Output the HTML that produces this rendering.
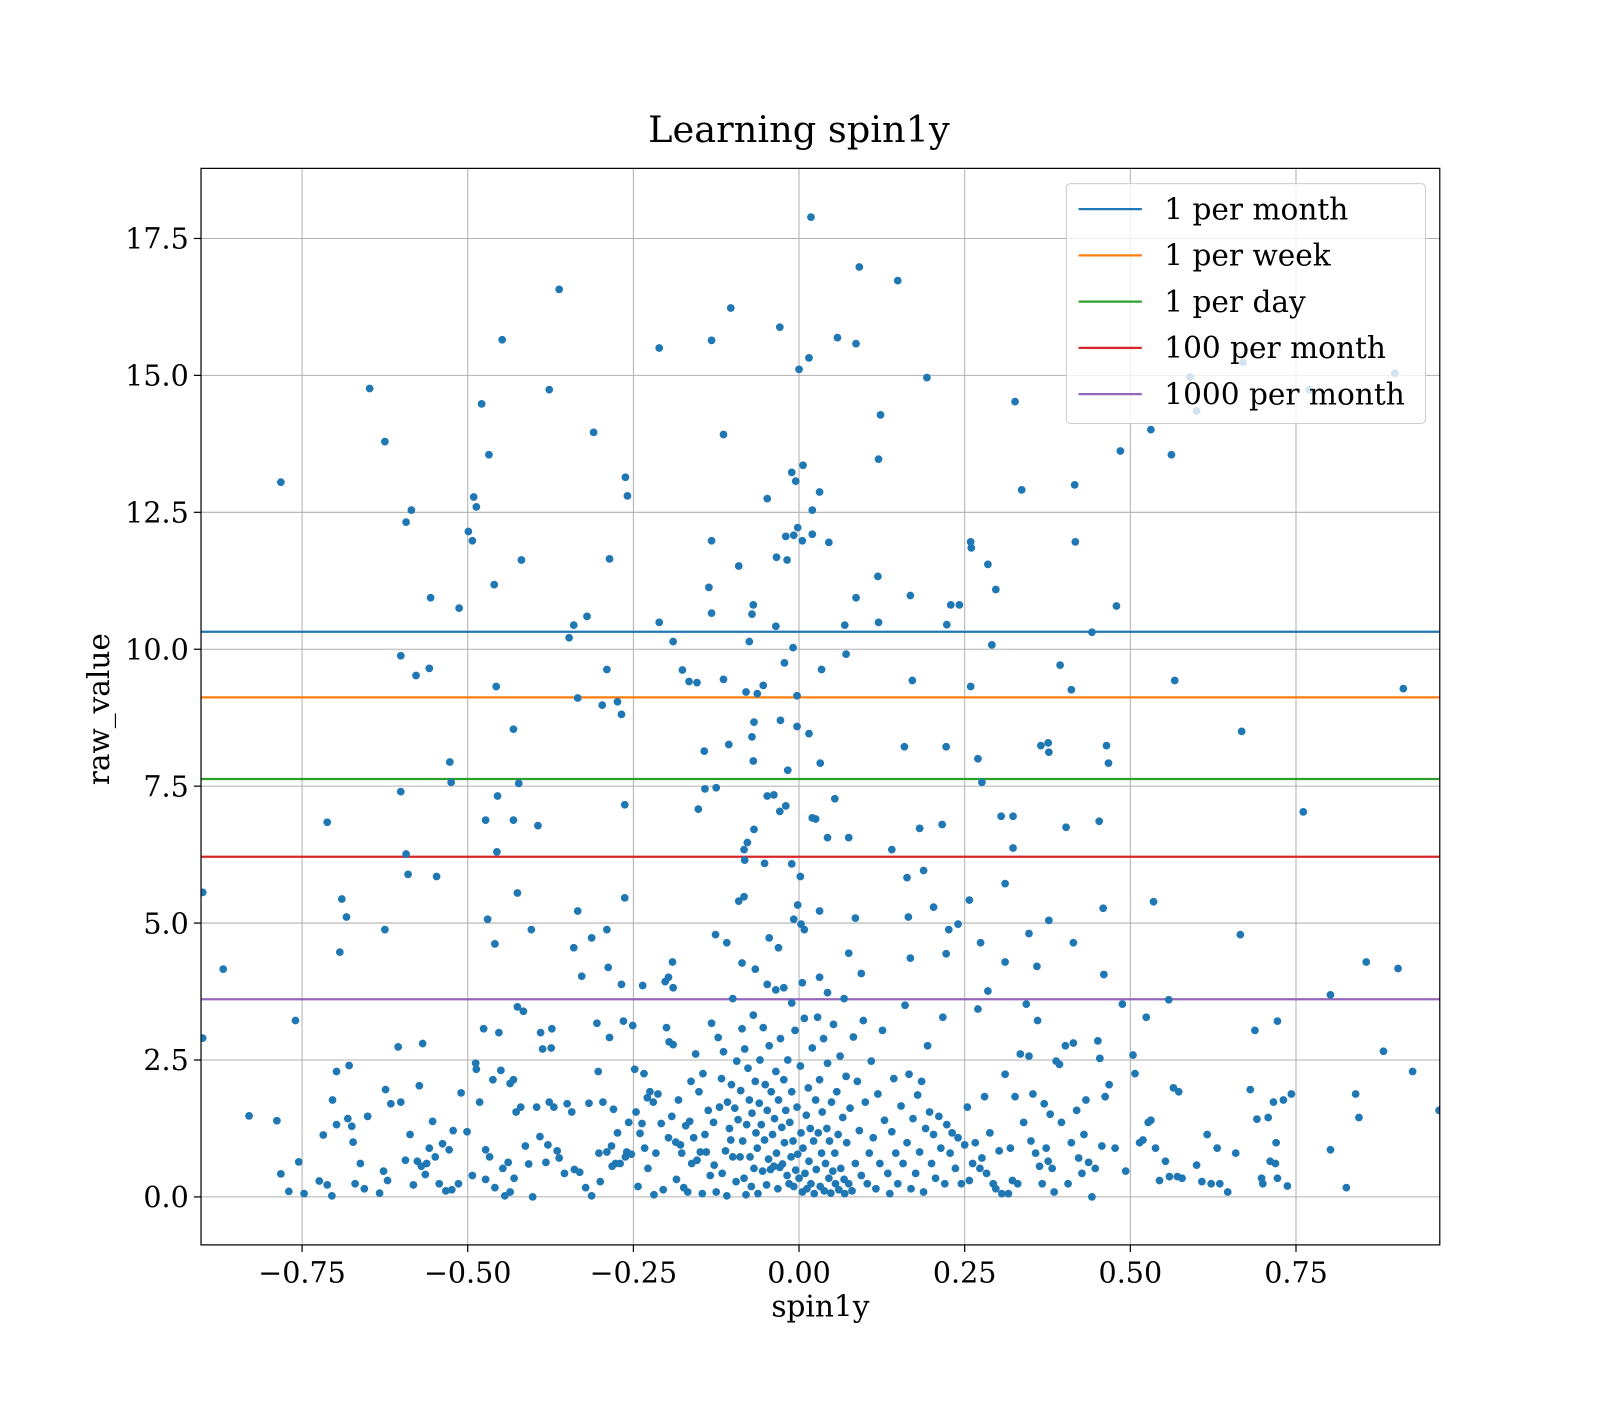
<!DOCTYPE html>
<html><head><meta charset="utf-8"><style>
html,body{margin:0;padding:0;background:#fff;}
svg text{font-family:"DejaVu Serif","Liberation Serif",serif;fill:#000;}
</style></head><body>
<svg id="chart" width="1600" height="1400" viewBox="0 0 1600 1400" xmlns="http://www.w3.org/2000/svg">
<rect x="0" y="0" width="1600" height="1400" fill="#fff"/>
<defs><clipPath id="plotclip"><rect x="197" y="165" width="1214" height="1055"/></clipPath></defs>
<g id="root" transform="scale(1.0204)">
<text x="783" y="139" font-size="36" text-anchor="middle">Learning spin1y</text>
<g id="grid"></g>
<g id="thresholds" clip-path="url(#plotclip)"></g>
<g id="points" clip-path="url(#plotclip)"></g>
<rect x="197" y="165" width="1214" height="1055" fill="none" stroke="#000" stroke-width="1.2"/>
<g id="xticks"></g>
<g id="yticks"></g>
<text x="804" y="1290" font-size="29" text-anchor="middle">spin1y</text>
<text transform="translate(107,695) rotate(-90)" font-size="29" text-anchor="middle">raw_value</text>
<g id="legend"></g>
</g>
</svg>
<script>
const xTicks = [-0.75,-0.5,-0.25,0,0.25,0.5,0.75];
const xTickLabels = ["\u22120.75","\u22120.50","\u22120.25","0.00","0.25","0.50","0.75"];
const yTicks = [0,2.5,5,7.5,10,12.5,15,17.5];
const yTickLabels = ["0.0","2.5","5.0","7.5","10.0","12.5","15.0","17.5"];
const thresholdNames = ["1 per month","1 per week","1 per day","100 per month","1000 per month"];
const thresholdValues = [10.32,9.12,7.63,6.21,3.61];
const thresholdColors = ["#1f77b4","#ff7f0e","#2ca02c","#d62728","#9467bd"];
const points = [
[-0.782,13.05],[-0.90,5.56],[-0.869,4.16],[-0.90,2.9],[-0.362,16.57],[-0.648,14.76],[-0.625,13.79],[-0.585,12.54],[-0.593,12.32],[-0.556,10.94],[-0.513,10.75],[-0.499,12.15],[-0.493,11.98],[-0.491,12.78],[-0.487,12.6],[-0.479,14.48],[-0.468,13.55],[-0.448,15.65],[-0.46,11.18],[-0.419,11.63],[-0.377,14.74],[-0.31,13.96],[-0.262,13.14],[-0.259,12.8],[-0.211,15.5],[-0.103,16.23],[-0.132,15.64],[-0.114,13.92],[-0.029,15.88],[0.018,17.89],[0.091,16.98],[0.149,16.73],[0.058,15.69],[0.086,15.58],[0.015,15.32],[0,15.11],[0.193,14.96],[0.123,14.28],[0.12,13.47],[0.326,14.52],[0.336,12.91],[0.416,13.0],[0.417,11.96],[0.485,13.62],[0.531,14.01],[0.562,13.55],[0.6,14.35],[0.59,14.97],[0.67,15.24],[0.77,14.74],[0.899,15.04],[0.912,9.28],[0.567,9.43],[0.668,8.5],[0.761,7.03],[0.666,4.79],[0.856,4.29],[0.904,4.17],[0.802,3.69],[0.926,2.29],[0.882,2.66],[0.966,1.58],[0.802,0.86],[0.826,0.17],[0.845,1.45],[0.84,1.88],
[0.006,13.36],[-0.011,13.23],[0.031,12.87],[-0.005,13.07],[-0.048,12.75],[0.02,12.54],[-0.002,12.22],[-0.008,12.08],[-0.02,12.06],[0.005,11.98],[0.02,12.1],[0.045,11.95],[-0.034,11.68],[-0.018,11.63],[-0.132,11.98],[-0.091,11.52],[-0.136,11.13],[-0.132,10.66],[-0.069,10.81],[-0.071,10.64],[-0.075,10.14],[-0.035,10.42],[-0.009,10.03],[0.119,11.33],[0.168,10.98],[0.086,10.94],[0.12,10.49],[0.069,10.44],[-0.211,10.49],[-0.19,10.14],[-0.286,11.65],[-0.347,10.21],[-0.34,10.44],[-0.32,10.6],
[-0.29,9.63],[-0.334,9.11],[-0.297,8.98],[-0.274,9.04],[-0.268,8.81],[-0.176,9.62],[-0.166,9.41],[-0.154,9.39],[-0.114,9.45],[-0.08,9.22],[-0.063,9.19],[-0.054,9.34],[-0.022,9.75],[-0.003,9.15],[0.034,9.63],[0.071,9.91],[0.171,9.43],[0.259,9.32],[0.291,10.08],[0.259,11.96],[0.26,11.85],[0.285,11.55],[0.297,11.09],[0.229,10.81],[0.242,10.81],[0.223,10.45],[0.442,10.31],[0.479,10.79],[0.394,9.71],[0.411,9.26],[0.464,8.24],[0.467,7.92],[0.376,8.29],[0.377,8.12],[0.365,8.24],[0.222,8.22],[0.159,8.22],[0.27,8.0],[0.276,7.57],[0.305,6.95],[0.323,6.95],[0.403,6.75],[0.453,6.86],[0.323,6.37],[0.311,5.72],[0.216,6.8],[0.182,6.73],[0.14,6.34],[0.163,5.83],[0.188,5.96],[0.168,4.36],[0.257,5.42],[0.203,5.29],[0.165,5.11],[0.24,4.98],[0.226,4.88],[0.274,4.64],[0.222,4.44],[0.311,4.29],[0.347,4.81],[0.377,5.05],[0.414,4.64],[0.459,5.27],[0.535,5.39],[0.359,4.21],[0.46,4.06],[0.285,3.76],[0.085,5.09],[0.075,4.45],[0.094,4.08],[0.075,6.56],[0.043,6.56],[0.054,7.27],[0.025,6.9],[0.02,6.92],[0.032,7.92],[0.015,8.46],[-0.003,8.59],[-0.017,7.79],[-0.02,7.14],[-0.029,7.04],[-0.038,7.34],[-0.048,7.32],[-0.068,8.67],[-0.071,8.4],[-0.069,7.96],[-0.028,8.7],[-0.106,8.26],[-0.125,7.47],[-0.142,7.45],[-0.143,8.14],[-0.152,7.08],[-0.068,6.71],[-0.078,6.47],[-0.083,6.34],[-0.082,6.15],[-0.052,6.09],[-0.011,6.08],[0.002,5.85],[-0.002,5.33],[0.031,5.22],[0.008,4.88],[0.003,4.98],[-0.008,5.07],[-0.091,5.4],[-0.083,5.48],[-0.045,4.73],[-0.031,4.55],[-0.126,4.79],[-0.109,4.64],[-0.086,4.27],[-0.066,4.16],[-0.048,3.88],[-0.035,3.78],[-0.023,3.82],[-0.011,3.54],[0.005,3.91],[0.043,3.73],[0.031,4.01],[0.068,3.62],[-0.1,3.62],
[-0.263,7.16],[-0.263,5.46],[-0.29,4.88],[-0.313,4.73],[-0.334,5.22],[-0.34,4.55],[-0.328,4.03],[-0.288,4.19],[-0.268,3.88],[-0.236,3.86],[-0.197,4.01],[-0.191,4.29],[-0.19,3.82],[-0.404,4.88],[-0.425,5.55],[-0.47,5.07],[-0.459,4.62],[-0.456,6.3],[-0.455,7.32],[-0.423,7.55],[-0.473,6.88],[-0.431,6.88],[-0.394,6.78],[-0.431,8.54],[-0.457,9.32],[-0.527,7.94],[-0.525,7.57],[-0.547,5.85],[-0.601,9.88],[-0.578,9.52],[-0.558,9.65],[-0.601,7.4],[-0.593,6.26],[-0.59,5.89],[-0.712,6.84],[-0.69,5.44],[-0.683,5.11],[-0.693,4.47],[-0.625,4.88],
[-0.76,3.22],[-0.83,1.48],[-0.788,1.39],[-0.782,0.42],[-0.77,0.1],[-0.755,0.64],[-0.747,0.06],[-0.724,0.29],[-0.718,1.13],[-0.712,0.22],[-0.704,1.77],[-0.705,0.02],[-0.698,2.29],[-0.698,1.32],[-0.681,1.43],[-0.679,2.4],[-0.675,1.29],[-0.673,1.0],[-0.67,0.24],[-0.662,0.61],[-0.656,0.15],[-0.651,1.47],[-0.633,0.07],[-0.624,1.96],[-0.627,0.47],[-0.621,0.3],[-0.616,1.7],[-0.605,2.74],[-0.601,1.73],[-0.594,0.67],[-0.587,1.14],[-0.582,0.22],[-0.576,0.65],[-0.573,2.03],[-0.57,0.56],[-0.568,2.8],[-0.564,0.41],[-0.562,0.61],[-0.558,0.89],[-0.553,1.38],[-0.549,0.73],[-0.543,0.24],[-0.538,0.97],[-0.533,0.11],[-0.528,0.86],[-0.524,0.13],[-0.522,1.21],[-0.514,0.24],[-0.51,1.9],[-0.501,1.19],[-0.493,0.39],[-0.488,2.44],[-0.487,2.33],[-0.482,1.73],[-0.476,3.07],[-0.473,0.86],[-0.473,0.32],[-0.467,0.73],[-0.462,2.14],[-0.459,0.17],[-0.453,3.0],[-0.45,2.31],[-0.447,0.52],[-0.444,0.02],[-0.439,0.63],[-0.436,2.07],[-0.436,0.09],[-0.431,2.14],[-0.43,0.34],[-0.427,1.55],[-0.425,3.47],[-0.42,1.64],[-0.416,3.39],[-0.413,0.93],[-0.408,0.6],[-0.402,0.0],[-0.396,1.64],[-0.391,1.1],[-0.39,3.0],[-0.387,2.7],[-0.382,0.63],[-0.379,0.95],[-0.377,1.73],[-0.374,2.72],[-0.373,3.07],[-0.37,1.64],[-0.365,0.84],[-0.362,0.71],[-0.354,0.43],[-0.35,1.7],[-0.343,1.55],[-0.339,0.5],[-0.331,0.45],[-0.322,0.17],[-0.317,1.71],[-0.313,0.02],[-0.305,3.17],[-0.303,2.29],[-0.302,0.8],[-0.3,0.28],[-0.296,1.73],[-0.29,0.82],[-0.286,2.91],[-0.283,0.93],[-0.282,0.56],[-0.28,1.6],[-0.277,0.61],[-0.274,1.17],[-0.27,0.61],[-0.265,3.21],[-0.262,0.73],[-0.26,0.82],[-0.257,1.36],[-0.253,0.78],[-0.251,3.13],[-0.248,2.33],[-0.246,1.55],[-0.243,0.19],[-0.24,1.16],[-0.237,1.34],[-0.234,2.25],[-0.233,0.89],[-0.229,1.81],[-0.228,0.52],[-0.225,1.92],[-0.22,1.73],[-0.219,0.04],[-0.216,0.8],[-0.213,1.88],[-0.208,1.34],[-0.205,0.13],[-0.202,3.93],[-0.2,3.09],[-0.197,1.08],[-0.196,2.83],[-0.192,1.47],[-0.19,2.78],[-0.186,1.0],[-0.185,0.32],[-0.182,1.77],[-0.179,0.95],[-0.177,0.8],[-0.174,0.17],[-0.171,1.3],[-0.168,0.09],[-0.165,1.38],[-0.163,2.11],[-0.162,0.61],[-0.159,1.08],[-0.156,2.61],[-0.154,0.67],[-0.151,1.92],[-0.149,0.82],[-0.146,0.06],[-0.145,2.25],[-0.142,1.14],[-0.14,0.82],[-0.137,1.58],[-0.134,0.39],[-0.132,3.17],[-0.129,1.36],[-0.128,0.58],[-0.125,0.09],[-0.122,2.91],[-0.12,1.64],[-0.117,2.16],[-0.116,0.43],[-0.114,2.65],[-0.111,0.84],[-0.109,0.02],[-0.108,1.73],[-0.105,1.25],[-0.103,1.04],[-0.102,2.05],[-0.1,0.73],[-0.097,1.62],[-0.095,0.28],[-0.094,2.48],[-0.092,1.41],[-0.089,0.73],[-0.088,1.94],[-0.086,3.07],[-0.085,1.02],[-0.083,0.34],[-0.082,2.7],[-0.08,0.04],[-0.079,1.32],[-0.077,2.35],[-0.075,1.77],[-0.074,0.73],[-0.072,0.19],[-0.071,1.53],[-0.069,3.32],[-0.068,0.52],[-0.066,2.11],[-0.065,1.17],[-0.063,0.89],[-0.062,0.06],[-0.06,1.71],[-0.059,2.5],[-0.057,1.32],[-0.055,0.47],[-0.054,3.09],[-0.052,1.04],[-0.051,2.05],[-0.049,0.22],[-0.048,1.58],[-0.046,0.69],[-0.045,2.76],[-0.043,0.5],[-0.042,1.92],[-0.04,1.14],[-0.038,0.56],[-0.037,1.43],[-0.035,2.29],[-0.034,0.8],[-0.032,0.15],[-0.031,1.77],[-0.029,0.54],[-0.028,2.89],[-0.026,1.27],[-0.025,0.6],[-0.023,2.14],[-0.022,0.99],[-0.02,1.58],[-0.018,0.39],[-0.017,2.5],[-0.015,0.24],[-0.014,1.36],[-0.012,0.73],[-0.011,1.92],[-0.009,1.02],[-0.008,0.19],[-0.006,3.04],[-0.005,0.49],[-0.003,1.64],[-0.002,0.78],[0,0.34],[0.002,2.39],[0.003,1.17],[0.005,0.09],[0.006,0.89],[0.008,3.26],[0.009,0.43],[0.011,1.49],[0.012,0.15],[0.014,1.99],[0.015,0.65],[0.017,1.25],[0.018,0.24],[0.02,2.72],[0.022,1.02],[0.023,0.06],[0.025,1.77],[0.026,0.5],[0.028,3.28],[0.029,1.17],[0.031,2.14],[0.032,0.19],[0.034,0.8],[0.035,1.55],[0.037,2.89],[0.038,0.11],[0.04,0.61],[0.042,1.25],[0.043,2.44],[0.045,0.34],[0.046,1.02],[0.048,0.07],[0.049,1.73],[0.051,0.47],[0.052,3.15],[0.054,0.8],[0.055,0.24],[0.057,1.92],[0.059,1.14],[0.06,0.13],[0.062,2.57],[0.063,0.52],[0.066,1.45],[0.068,0.32],[0.069,0.06],[0.071,2.2],[0.072,0.99],[0.075,0.24],[0.077,1.62],[0.08,0.11],[0.082,2.92],[0.085,0.61],[0.088,2.11],[0.091,1.21],[0.094,0.39],[0.097,3.22],[0.1,1.73],[0.103,0.24],[0.106,0.8],[0.109,2.48],[0.112,1.08],[0.116,0.15],[0.119,1.88],[0.122,0.61],[0.126,3.04],[0.129,1.4],[0.134,0.43],[0.137,0.06],[0.14,1.19],[0.143,2.16],[0.146,0.8],[0.149,0.24],[0.154,1.66],[0.157,0.61],[0.16,3.5],[0.163,0.99],[0.166,2.24],[0.169,0.15],[0.172,1.43],[0.176,0.43],[0.179,1.86],[0.182,0.82],[0.185,2.11],[0.188,0.09],[0.191,1.25],[0.194,2.76],[0.197,1.55],[0.2,0.61],[0.203,1.14],[0.206,0.34],[0.211,1.47],[0.214,0.89],[0.217,3.28],[0.22,0.24],[0.223,1.32],[0.228,0.8],[0.231,1.17],[0.236,0.52],[0.24,1.08],[0.245,0.24],[0.25,0.95],[0.254,1.64],[0.257,0.3],[0.262,0.61],[0.266,0.99],[0.27,3.43],[0.273,0.52],[0.276,0.71],[0.28,1.83],[0.283,0.43],[0.288,1.17],[0.293,0.24],[0.297,0.15],[0.302,0.84],[0.306,0.06],[0.311,2.24],[0.316,0.06],[0.319,0.89],[0.322,0.3],[0.326,1.83],[0.33,0.24],[0.334,2.61],[0.339,1.36],[0.343,3.52],[0.347,2.57],[0.35,1.02],[0.353,1.88],[0.357,0.8],[0.36,3.22],[0.363,0.56],[0.367,0.24],[0.37,1.7],[0.373,0.89],[0.376,0.65],[0.379,1.51],[0.382,0.52],[0.385,0.09],[0.388,2.48],[0.393,2.42],[0.396,1.36],[0.402,2.76],[0.406,0.24],[0.411,0.99],[0.414,2.81],[0.419,1.58],[0.422,0.71],[0.427,0.43],[0.43,1.14],[0.433,1.77],[0.437,0.63],[0.442,0.0],[0.447,0.52],[0.451,2.85],[0.454,2.53],[0.457,0.93],[0.462,1.83],[0.468,2.05],[0.477,0.89],[0.488,3.52],[0.493,0.47],[0.504,2.59],[0.507,2.25],[0.514,0.99],[0.519,1.04],[0.524,3.28],[0.527,1.36],[0.531,1.4],[0.538,0.89],[0.544,0.3],[0.553,0.65],[0.559,0.37],[0.565,1.99],[0.571,0.37],[0.573,1.92],[0.578,0.34],[0.558,3.6],[0.6,0.58],[0.608,0.28],[0.616,1.14],[0.622,0.24],[0.631,0.89],[0.635,0.24],[0.647,0.09],[0.659,0.8],[0.681,1.96],[0.688,3.04],[0.691,1.42],[0.698,0.34],[0.7,0.24],[0.708,1.45],[0.711,0.65],[0.719,0.61],[0.716,1.73],[0.722,3.21],[0.722,0.34],[0.72,0.99],[0.731,1.77],[0.737,0.2],[0.743,1.88]
];
const spinValues = points.map(p => p[0]);
const rawValues = points.map(p => p[1]);

const X0 = 197, X1 = 1411, Y0 = 165, Y1 = 1220;
const xMin = -0.9025, xMax = 0.967, yMin = -0.876, yMax = 18.78;
function xScale(v){ return X0 + (v - xMin) / (xMax - xMin) * (X1 - X0); }
function yScale(v){ return Y1 - (v - yMin) / (yMax - yMin) * (Y1 - Y0); }
const NS = "http://www.w3.org/2000/svg";
function mk(tag, attrs, parent){ const e = document.createElementNS(NS, tag); for (const k in attrs) e.setAttribute(k, attrs[k]); parent.appendChild(e); return e; }

const grid = document.getElementById('grid');
const xt = document.getElementById('xticks');
const yt = document.getElementById('yticks');
xTicks.forEach((t, i) => {
  const x = xScale(t);
  const g = mk('line', {x1:x, x2:x, y1:Y0, y2:Y1, stroke:'#b0b0b0', 'stroke-width':1}, grid);
  
  
  const tk = mk('line', {x1:x, x2:x, y1:Y1, y2:Y1+7, stroke:'#000', 'stroke-width':1.2}, xt);
  
  
  const lb = mk('text', {x:x, y:Y1+37, 'font-size':28, 'text-anchor':'middle'}, xt);
  lb.textContent = xTickLabels[i];
  
  
});
yTicks.forEach((t, i) => {
  const y = yScale(t);
  const g = mk('line', {x1:X0, x2:X1, y1:y, y2:y, stroke:'#b0b0b0', 'stroke-width':1}, grid);
  
  
  const tk = mk('line', {x1:X0-7, x2:X0, y1:y, y2:y, stroke:'#000', 'stroke-width':1.2}, yt);
  
  
  const lb = mk('text', {x:X0-12, y:y+10, 'font-size':28, 'text-anchor':'end'}, yt);
  lb.textContent = yTickLabels[i];
  
  
});

const pg = document.getElementById('points');
spinValues.forEach((sx, i) => {
  const c = mk('circle', {cx:xScale(sx), cy:yScale(rawValues[i]), r:3.8, fill:'#1f77b4'}, pg);
  
  
});

const tg = document.getElementById('thresholds');
thresholdValues.forEach((v, i) => {
  const l = mk('line', {x1:X0, x2:X1, y1:yScale(v), y2:yScale(v), stroke:thresholdColors[i], 'stroke-width':2.2}, tg);
  
  
});

const lg = document.getElementById('legend');
const box = mk('rect', {x:1045, y:180, width:352, height:235, rx:4, fill:'rgba(255,255,255,0.8)', stroke:'#cccccc', 'stroke-width':1}, lg);


thresholdNames.forEach((n, i) => {
  const y = 205 + i * 45.3;
  const l = mk('line', {x1:1057, x2:1119, y1:y, y2:y, stroke:thresholdColors[i], 'stroke-width':2.2}, lg);
  
  
  const t = mk('text', {x:1141, y:y+10, 'font-size':29}, lg);
  t.textContent = n;
  
  
});
</script>
</body></html>
